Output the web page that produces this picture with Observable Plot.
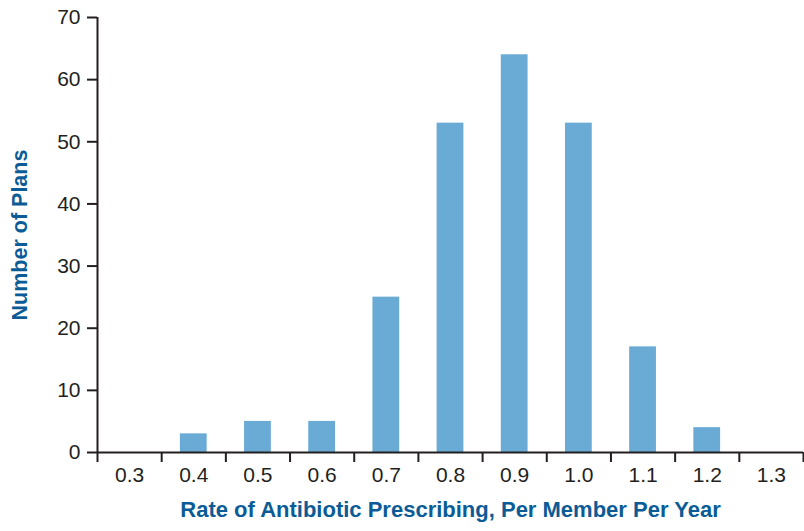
<!DOCTYPE html>
<html>
<head>
<meta charset="utf-8">
<script src="https://cdn.jsdelivr.net/npm/d3@7"></script>
<script src="https://cdn.jsdelivr.net/npm/@observablehq/plot@0.6"></script>
<style>
  html, body { margin: 0; padding: 0; background: #fff; }
  #chart svg { display: block; }
  #chart svg g[aria-label='x-axis tick label'] text,
  #chart svg g[aria-label='y-axis tick label'] text { font-size: 21px !important; }
  #chart svg g[aria-label='x-axis label'] text { font-size: 22px !important; font-weight: bold; }
  #chart svg g[aria-label='y-axis label'] text { font-size: 21.5px !important; font-weight: bold; }
</style>
</head>
<body>
<div id="chart"></div>
<script>
const rates = [0.3, 0.4, 0.5, 0.6, 0.7, 0.8, 0.9, 1.0, 1.1, 1.2, 1.3];
const plans = [0, 3, 5, 5, 25, 53, 64, 53, 17, 4, 0];
const binEdges = [0.25, 0.35, 0.45, 0.55, 0.65, 0.75, 0.85, 0.95, 1.05, 1.15, 1.25, 1.35];
const yTicks = [0, 10, 20, 30, 40, 50, 60, 70];
const binWidth = 0.1;

const data = rates.map((r, i) => ({rate: r, count: plans[i]}));

const ink = "#231f20";
const titleBlue = "#0b5c96";
const barBlue = "#6aabd6";

const chart = Plot.plot({
  width: 804,
  height: 531,
  marginLeft: 97,
  marginRight: 1,
  marginTop: 17,
  marginBottom: 79,
  style: {fontFamily: "'Liberation Sans', Arial, sans-serif", fontSize: "21px", color: ink, background: "#fff"},
  x: {type: "linear", domain: [0.25, 1.35]},
  y: {domain: [0, 70]},
  marks: [
    Plot.rectY(data, {
      x1: d => d.rate - binWidth / 2,
      x2: d => d.rate + binWidth / 2,
      y1: 0,
      y2: "count",
      fill: barBlue,
      insetLeft: 18.7,
      insetRight: 18.7
    }),
    Plot.axisX({ticks: binEdges, tickSize: 10, tickFormat: () => "", stroke: ink, strokeWidth: 2, label: null}),
    Plot.axisX({ticks: rates, tickSize: 0, tickPadding: 15, tickFormat: d3.format(".1f"), fill: ink,
      label: "Rate of Antibiotic Prescribing, Per Member Per Year", labelArrow: "none", labelAnchor: "center", labelOffset: 64}),
    Plot.axisY({ticks: yTicks, tickSize: 10, tickPadding: 7, stroke: ink, strokeWidth: 2, fill: ink,
      label: "Number of Plans", labelArrow: "none", labelAnchor: "center", labelOffset: 86}),
    Plot.ruleX([0.25], {y1: 0, y2: 70, stroke: ink, strokeWidth: 2}),
    Plot.ruleY([0], {x1: 0.25, x2: 1.35, stroke: ink, strokeWidth: 2})
  ]
});

const svg = d3.select(chart);
svg.selectAll("[aria-label='x-axis label'] text, [aria-label='y-axis label'] text")
  .attr("fill", titleBlue);

document.getElementById("chart").appendChild(chart);
</script>
</body>
</html>
